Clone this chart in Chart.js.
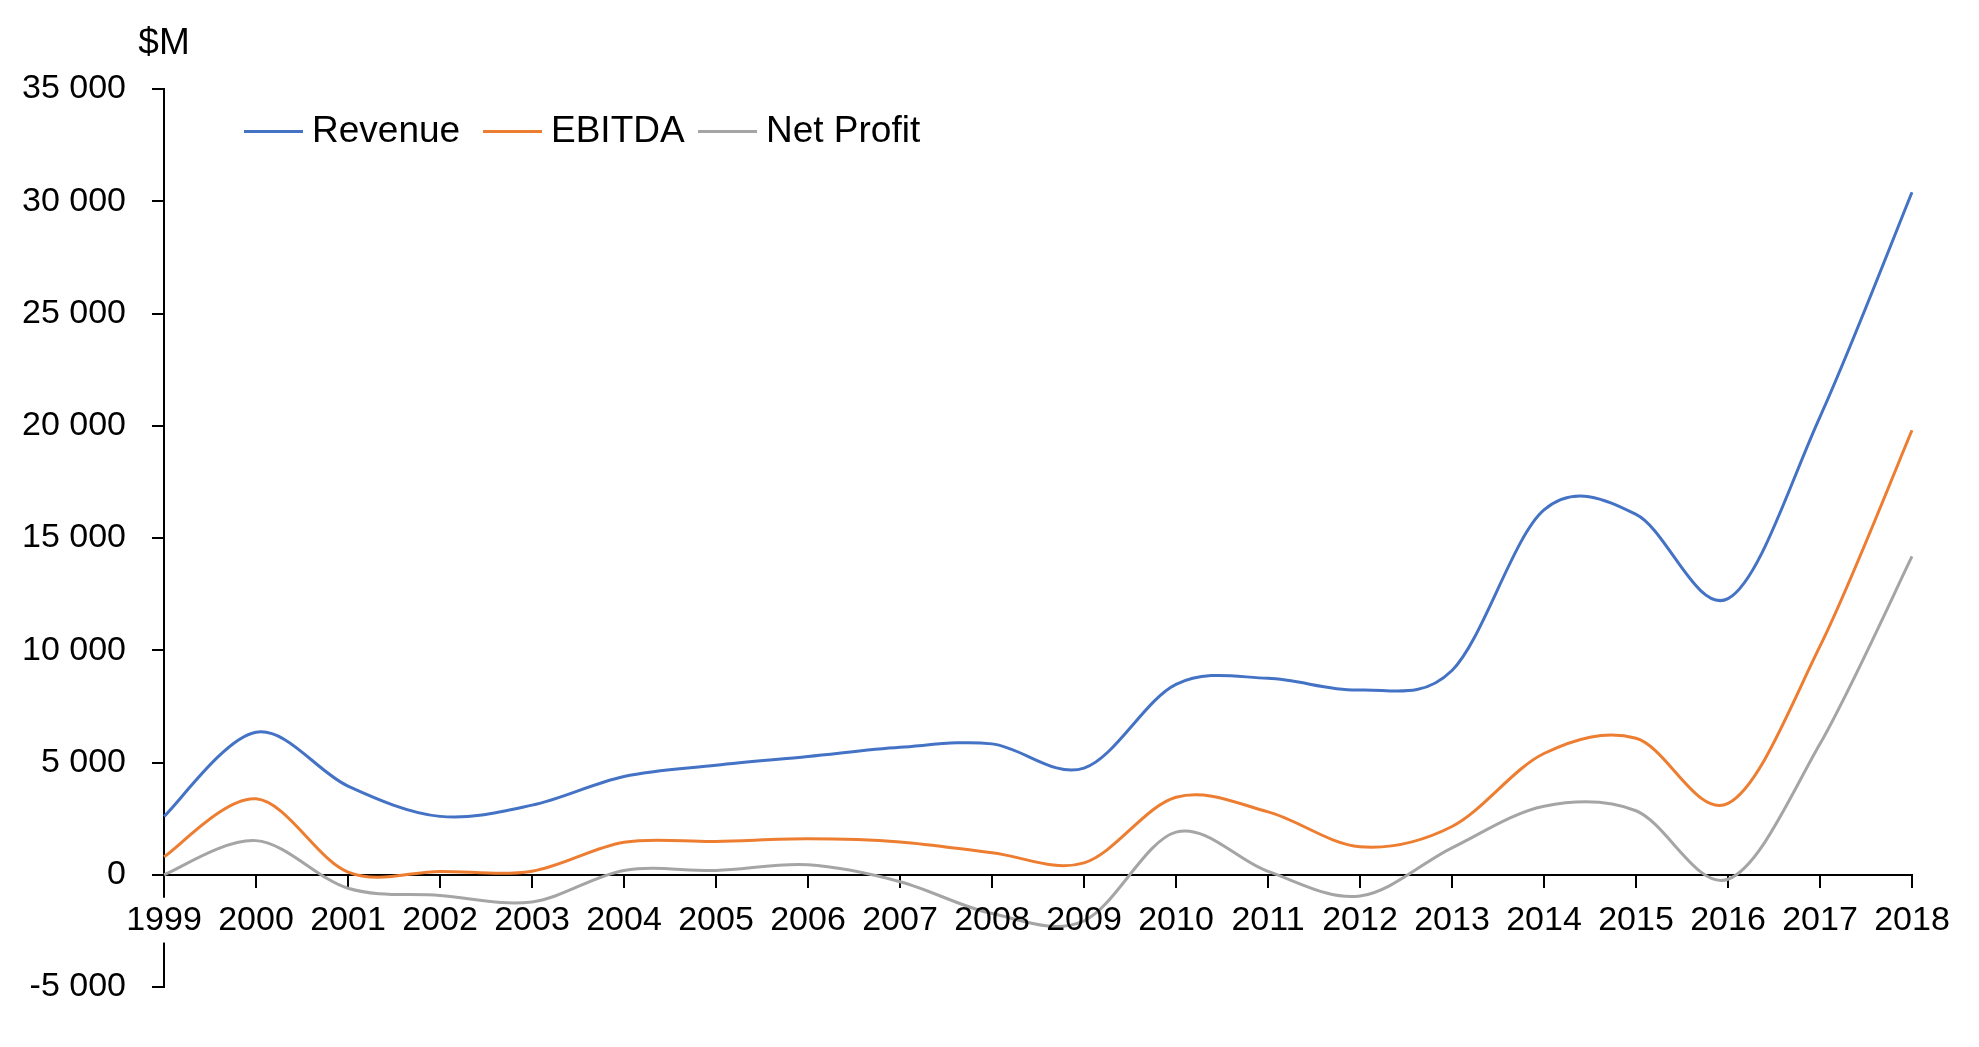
<!DOCTYPE html>
<html>
<head>
<meta charset="utf-8">
<script src="https://cdn.jsdelivr.net/npm/chart.js@4/dist/chart.umd.min.js"></script>
<style>
  html, body { margin: 0; padding: 0; background: #ffffff; }
  #wrap { width: 1979px; height: 1047px; position: relative; }
</style>
</head>
<body>
<div id="wrap"><canvas id="c"></canvas></div>
<script>
// ---- data ----
const years = ['1999','2000','2001','2002','2003','2004','2005','2006','2007','2008',
               '2009','2010','2011','2012','2013','2014','2015','2016','2017','2018'];
const revenue   = [2600, 6350, 3950, 2600, 3100, 4380, 4880, 5270, 5680, 5830,
                   4750, 8480, 8750, 8230, 9100, 16250, 16050, 12300, 20400, 30400];
const ebitda    = [800, 3380, 120, 150, 160, 1450, 1480, 1600, 1460, 980,
                   530, 3450, 2800, 1250, 2150, 5400, 6080, 3180, 10180, 19800];
const netProfit = [0, 1520, -600, -920, -1210, 190, 190, 440, -310, -1730,
                   -2050, 1900, 150, -950, 1200, 3050, 2850, -200, 5830, 14180];
const seriesNames = ['Revenue', 'EBITDA', 'Net Profit'];
const unitLabel = '$M';
const yMin = -5000, yMax = 35000, yStep = 5000;

// ---- styles ----
const colors = ['#4472C4', '#ED7D31', '#A5A5A5'];
const FONT = '"Liberation Sans", Arial, sans-serif';
Chart.defaults.font.family = FONT;
Chart.defaults.color = '#000000';

function fmt(v) {
  const s = Math.abs(v).toString().replace(/\B(?=(\d{3})+(?!\d))/g, ' ');
  return (v < 0 ? '-' : '') + s;
}

// Excel-style smoothing (uniform Catmull-Rom) applied to the library-computed points
const smoothLines = {
  id: 'smoothLines',
  beforeDatasetDraw(chart, args) {
    const meta = args.meta;
    const line = meta.dataset;
    if (!line) return;
    line.updateControlPoints(chart.chartArea, 'x');
    const pts = meta.data;
    const n = pts.length;
    for (let i = 0; i < n; i++) {
      const p = pts[i];
      const prev = pts[Math.max(i - 1, 0)];
      const next = pts[Math.min(i + 1, n - 1)];
      const dx = (next.x - prev.x) / 6;
      const dy = (next.y - prev.y) / 6;
      p.cp1x = p.x - dx; p.cp1y = p.y - dy;
      p.cp2x = p.x + dx; p.cp2y = p.y + dy;
    }
  }
};

const overlay = {
  id: 'overlay',
  afterDraw(chart) {
    const { ctx, chartArea } = chart;
    ctx.save();
    ctx.fillStyle = '#000000';
    ctx.font = '37px ' + FONT;
    ctx.textAlign = 'center';
    ctx.textBaseline = 'alphabetic';
    ctx.fillText(unitLabel, chartArea.left, 54);

    const offsets = [80, 319, 534];
    const lineY = 131.5;
    ctx.font = '37px ' + FONT;
    ctx.textAlign = 'left';
    chart.data.datasets.forEach((ds, i) => {
      const x0 = chartArea.left + offsets[i];
      ctx.strokeStyle = ds.borderColor;
      ctx.lineWidth = 3;
      ctx.beginPath();
      ctx.moveTo(x0, lineY);
      ctx.lineTo(x0 + 59, lineY);
      ctx.stroke();
      ctx.fillText(ds.label, x0 + 68, 141.5);
    });
    ctx.restore();
  }
};

const mk = (label, data, color) => ({
  label, data,
  borderColor: color,
  backgroundColor: color,
  borderWidth: 3,
  pointRadius: 0,
  pointHoverRadius: 0,
  tension: 0.33,
  fill: false
});

new Chart(document.getElementById('c'), {
  type: 'line',
  data: {
    labels: years,
    datasets: [
      mk(seriesNames[0], revenue, colors[0]),
      mk(seriesNames[1], ebitda, colors[1]),
      mk(seriesNames[2], netProfit, colors[2])
    ]
  },
  options: {
    responsive: true,
    maintainAspectRatio: false,
    animation: false,
    layout: { padding: { top: 89, right: 67, bottom: 60, left: 0 } },
    plugins: {
      legend: { display: false },
      tooltip: { enabled: false },
      title: { display: false }
    },
    scales: {
      x: {
        position: { y: 0 },
        offset: false,
        grid: { display: true, drawOnChartArea: false, drawTicks: true, tickLength: 12, color: '#000000', lineWidth: 2 },
        border: { display: true, color: '#000000', width: 2 },
        ticks: {
          font: { size: 34 },
          color: '#000000',
          padding: 13,
          maxRotation: 0,
          autoSkip: false,
          z: 1,
          showLabelBackdrop: (c) => c.index === 0,
          backdropColor: '#ffffff',
          backdropPadding: 2
        }
      },
      y: {
        min: yMin,
        max: yMax,
        afterFit: (s) => { s.width = 164; },
        grid: { display: true, drawOnChartArea: false, drawTicks: true, tickLength: 12, color: '#000000', lineWidth: 2 },
        border: { display: true, color: '#000000', width: 2 },
        ticks: {
          stepSize: yStep,
          font: { size: 34 },
          color: '#000000',
          padding: 26,
          callback: (v) => fmt(v)
        }
      }
    }
  },
  plugins: [smoothLines, overlay]
});
</script>
</body>
</html>
